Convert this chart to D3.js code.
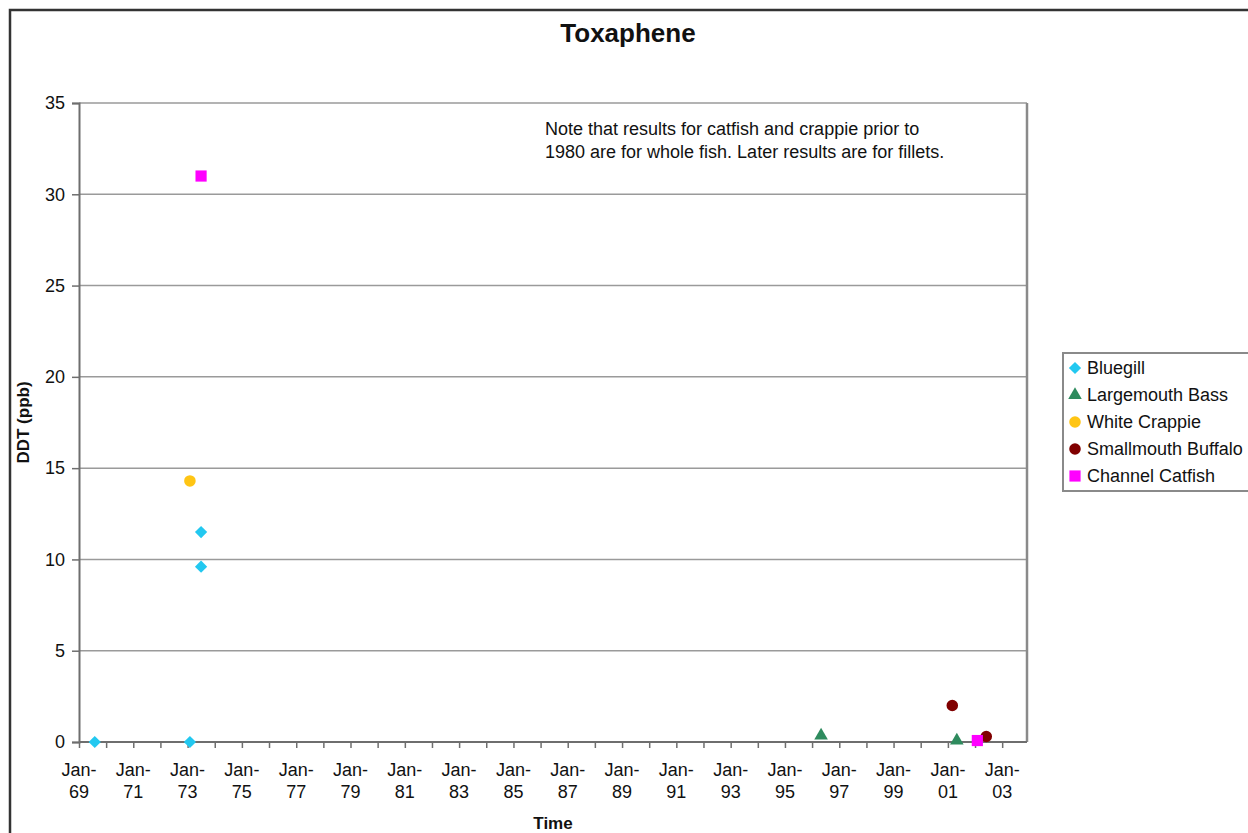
<html>
    <head>
        <meta charset='UTF-8'>
        <script src="https://d3js.org/d3.v7.min.js"></script>
        <style>
            body { margin: 0; background: white; }
            text { font-family: Arial, "Liberation Sans", sans-serif; fill: #111; }
            .grid line { stroke: #9a9a9a; stroke-width: 1.5px; }
            .axis .domain { stroke: #6e6e6e; stroke-width: 2px; }
            .axis line { stroke: #6e6e6e; stroke-width: 1.5px; }
        </style>
    </head>
    <body>
        <svg id="chart" width="1248" height="833"></svg>
        <script>
            // series data, dates as [year, month]
            const seriesNames = ['Bluegill', 'Largemouth Bass', 'White Crappie', 'Smallmouth Buffalo', 'Channel Catfish'];
            const seriesColors = ['#22c8f0', '#2e8b5e', '#ffc514', '#800000', '#ff00ff'];

            const bluegillDates = [[1969, 7], [1973, 1], [1973, 6], [1973, 6]];
            const bluegillValues = [0, 0, 11.5, 9.6];
            const largemouthDates = [[1996, 4], [2001, 4]];
            const largemouthValues = [0.35, 0.08];
            const crappieDates = [[1973, 1]];
            const crappieValues = [14.3];
            const buffaloDates = [[2001, 2], [2002, 5]];
            const buffaloValues = [2.0, 0.3];
            const catfishDates = [[1973, 6], [2002, 1]];
            const catfishValues = [31.0, 0.08];

            const yTicks = [0, 5, 10, 15, 20, 25, 30, 35];
            const noteLines = ['Note that results for catfish and crappie prior to',
                               '1980 are for whole fish. Later results are for fillets.'];

            const svg = d3.select('#chart');
            const plot = { left: 79, right: 1027, top: 103, bottom: 742 };

            // marker shapes: diamond is a square turned 45 degrees
            const seriesShapes = [d3.symbolSquare, d3.symbolTriangle, d3.symbolCircle, d3.symbolCircle, d3.symbolSquare];
            const symbolSizes = [75, 80, 105, 105, 125];
            const symbolTurn = [45, 0, 0, 0, 0];
            const marker = i => d3.symbol().type(seriesShapes[i]).size(symbolSizes[i])();

            // outer chart frame (runs off the right and bottom)
            svg.append('rect')
               .attr('x', 10).attr('y', 10)
               .attr('width', 1400).attr('height', 1000)
               .attr('fill', 'white')
               .attr('stroke', '#333').attr('stroke-width', 2.5);

            const x = d3.scaleTime()
                        .domain([new Date(1969, 0, 1), new Date(2003, 11, 1)])
                        .range([plot.left, plot.right]);
            const y = d3.scaleLinear().domain([0, 35]).range([plot.bottom, plot.top]);

            //gridlines
            svg.append('g').attr('class', 'grid')
               .selectAll('line').data(yTicks.slice(1))
               .join('line')
               .attr('x1', plot.left).attr('x2', plot.right)
               .attr('y1', d => y(d)).attr('y2', d => y(d));

            // right border of plot area
            svg.append('line')
               .attr('x1', plot.right).attr('x2', plot.right)
               .attr('y1', plot.top).attr('y2', plot.bottom)
               .attr('stroke', '#8a8a8a').attr('stroke-width', 2.5);

            //y axis
            const yAxis = svg.append('g').attr('class', 'axis')
               .attr('transform', 'translate(' + plot.left + ',0)')
               .call(d3.axisLeft(y).tickValues(yTicks).tickSize(7).tickPadding(7));
            yAxis.selectAll('text').style('font-size', '18px').attr('fill', '#111');

            //x axis, yearly ticks with labels every other year
            const years = d3.timeYear.range(new Date(1969, 0, 1), new Date(2004, 0, 1));
            const xAxis = svg.append('g').attr('class', 'axis')
               .attr('transform', 'translate(0,' + plot.bottom + ')')
               .call(d3.axisBottom(x).tickValues(years).tickSize(6).tickFormat(''));
            xAxis.select('.domain').attr('d', 'M' + plot.left + ',0H' + plot.right);

            const labelYears = years.filter((d, i) => i % 2 === 0);
            const fmt = d3.timeFormat('%y');
            const xl = svg.append('g').selectAll('text').data(labelYears)
               .join('text')
               .attr('text-anchor', 'middle')
               .style('font-size', '18px');
            xl.append('tspan').attr('x', d => x(d)).attr('y', 776).text('Jan-');
            xl.append('tspan').attr('x', d => x(d)).attr('y', 798).text(d => fmt(d));

            //axis titles and chart title
            svg.append('text')
               .attr('x', (plot.left + plot.right) / 2).attr('y', 829)
               .attr('text-anchor', 'middle')
               .style('font-size', '17px').style('font-weight', 'bold')
               .text('Time');

            svg.append('text')
               .attr('transform', 'translate(29,' + (plot.top + plot.bottom) / 2 + ') rotate(-90)')
               .attr('text-anchor', 'middle')
               .style('font-size', '17px').style('font-weight', 'bold')
               .text('DDT (ppb)');

            svg.append('text')
               .attr('x', 628).attr('y', 42)
               .attr('text-anchor', 'middle')
               .style('font-size', '26px').style('font-weight', 'bold')
               .text('Toxaphene');

            svg.append('g').selectAll('text').data(noteLines)
               .join('text')
               .attr('x', 545).attr('y', (d, i) => 135 + i * 23)
               .style('font-size', '18px')
               .text(d => d);

            //build points from series arrays
            const allDates = [bluegillDates, largemouthDates, crappieDates, buffaloDates, catfishDates];
            const allValues = [bluegillValues, largemouthValues, crappieValues, buffaloValues, catfishValues];
            const points = [];
            allDates.forEach((dates, s) => {
                dates.forEach((d, i) => {
                    points.push({ s: s, date: new Date(d[0], d[1], 1), value: allValues[s][i] });
                });
            });

            svg.append('g').selectAll('path').data(points)
               .join('path')
               .attr('transform', d => 'translate(' + x(d.date) + ',' + y(d.value) + ') rotate(' + symbolTurn[d.s] + ')')
               .attr('d', d => marker(d.s))
               .attr('fill', d => seriesColors[d.s]);

            //legend
            const legend = svg.append('g').attr('transform', 'translate(1063,353)');
            legend.append('rect')
               .attr('width', 300).attr('height', 138)
               .attr('fill', 'white')
               .attr('stroke', '#8a8a8a').attr('stroke-width', 2);
            const rows = legend.selectAll('g.row').data(seriesNames)
               .join('g').attr('class', 'row')
               .attr('transform', (d, i) => 'translate(12,' + (15 + i * 27) + ')');
            rows.append('path')
               .attr('transform', (d, i) => 'rotate(' + symbolTurn[i] + ')')
               .attr('d', (d, i) => marker(i))
               .attr('fill', (d, i) => seriesColors[i]);
            rows.append('text')
               .attr('x', 12).attr('y', 6)
               .style('font-size', '18px')
               .text(d => d);
        </script>
    </body>
</html>
